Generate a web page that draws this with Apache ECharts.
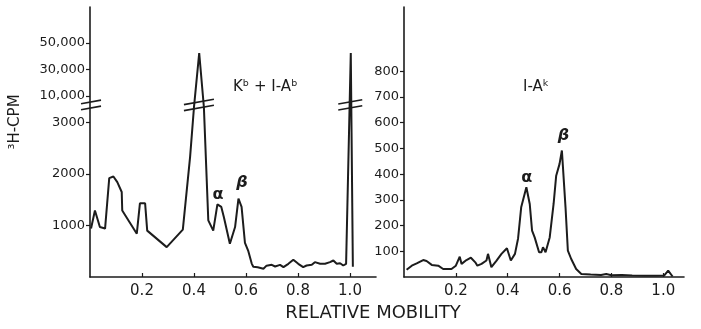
<!DOCTYPE html>
<html>
<head>
<meta charset="utf-8">
<script src="https://cdn.jsdelivr.net/npm/echarts@6/dist/echarts.min.js"></script>
<style>
  html, body { margin: 0; padding: 0; background: #fff; }
  #chart { width: 701px; height: 329px; }
</style>
</head>
<body>
<div id="chart"></div>
<script>
// left panel: K^b + I-A^b  (relative mobility vs 3H-CPM, broken y scale)
const leftX = [0.004, 0.019, 0.038, 0.058, 0.074, 0.09, 0.105, 0.122, 0.124, 0.18, 0.192, 0.212, 0.22, 0.295,
  0.357, 0.385, 0.40, 0.42, 0.438, 0.455, 0.474, 0.49, 0.505, 0.515, 0.538, 0.558, 0.571, 0.583, 0.596, 0.609,
  0.622, 0.628, 0.645, 0.667, 0.679, 0.699, 0.712, 0.731, 0.744, 0.763, 0.782, 0.801, 0.82, 0.833, 0.853,
  0.865, 0.885, 0.904, 0.923, 0.936, 0.949, 0.962, 0.974, 0.985, 0.991, 1.003, 1.011];
const leftCPM = [940, 1290, 970, 940, 1920, 1950, 1840, 1650, 1290, 840, 1430, 1430, 900, 580,
  920, 2330, 3300, 42500, 3300, 1100, 900, 1410, 1360, 1160, 645, 970, 1520, 1360, 660, 500,
  260, 200, 190, 160, 220, 236, 204, 236, 191, 256, 334, 256, 191, 223, 236,
  288, 256, 256, 288, 320, 256, 268, 223, 256, 280, 42500, 200];

// right panel: I-A^k
const rightX = [0.01, 0.03, 0.049, 0.074, 0.087, 0.107, 0.132, 0.151, 0.183, 0.2, 0.215, 0.222, 0.241, 0.258,
  0.275, 0.283, 0.299, 0.318, 0.324, 0.337, 0.357, 0.376, 0.397, 0.402, 0.412, 0.428, 0.44, 0.452, 0.472,
  0.485, 0.494, 0.504, 0.521, 0.53, 0.536, 0.546, 0.562, 0.577, 0.587, 0.6, 0.609, 0.623, 0.632, 0.645,
  0.664, 0.684, 0.72, 0.76, 0.78, 0.8, 0.84, 0.88, 0.93, 0.97, 1.004, 1.019, 1.036];
const rightCPM = [28, 44, 53, 66, 62, 47, 44, 31, 31, 44, 79, 51, 66, 75,
  57, 44, 51, 64, 90, 38, 64, 90, 112, 109, 64, 90, 150, 271, 349,
  284, 180, 154, 96, 96, 116, 96, 154, 284, 394, 440, 492, 271, 103, 70,
  31, 12, 10, 8, 12, 7, 8, 6, 5, 5, 6, 25, 2];

const xTicks = [0.2, 0.4, 0.6, 0.8, 1.0];
const leftYTicks = [1000, 2000, 3000, 10000, 30000, 50000];
const rightYTicks = [100, 200, 300, 400, 500, 600, 700, 800];

// broken axis: above BREAK the scale is compressed
const BREAK = 3340, K = 0.02573;
function toDisplay(v) { return v <= BREAK ? v : BREAK + (v - BREAK) * K; }
function fromDisplay(d) { return d <= BREAK ? d : BREAK + (d - BREAK) / K; }

const INK = '#1c1c1c';
const FONT = 'DejaVu Sans';

const leftData = leftX.map((x, i) => [x, toDisplay(leftCPM[i])]);
const rightData = rightX.map((x, i) => [x, rightCPM[i]]);

function xAxisFor(idx, max) {
  return {
    type: 'value', gridIndex: idx, min: 0, max: max,
    axisLine: { lineStyle: { color: INK, width: 1.6 } },
    axisTick: { inside: true, length: 4, customValues: xTicks, lineStyle: { color: INK, width: 1.2 } },
    axisLabel: { customValues: xTicks, color: INK, fontFamily: FONT, fontSize: 15, margin: 7,
      formatter: v => v.toFixed(1) },
    splitLine: { show: false }
  };
}

const chart = echarts.init(document.getElementById('chart'));
chart.setOption({
  animation: false,
  backgroundColor: '#fff',
  grid: [
    { left: 90, right: 325, top: 7, bottom: 52 },
    { left: 404, right: 17, top: 7, bottom: 52 }
  ],
  xAxis: [xAxisFor(0, 1.1), xAxisFor(1, 1.08)],
  yAxis: [
    {
      type: 'value', gridIndex: 0, min: 0, max: 5240,
      axisLine: { show: true, lineStyle: { color: INK, width: 1.6 } },
      axisTick: { show: true, length: 4, customValues: leftYTicks.map(toDisplay), lineStyle: { color: INK, width: 1.2 } },
      axisLabel: {
        customValues: leftYTicks.map(toDisplay), color: INK, fontFamily: FONT, fontSize: 13, margin: 5,
        formatter: d => {
          const r = Math.round(fromDisplay(d) / 1000) * 1000;
          return r >= 10000 ? r.toLocaleString('en-US') : String(r);
        }
      },
      splitLine: { show: false }
    },
    {
      type: 'value', gridIndex: 1, min: 0, max: 1050,
      axisLine: { show: true, lineStyle: { color: INK, width: 1.6 } },
      axisTick: { show: true, length: 4, customValues: rightYTicks, lineStyle: { color: INK, width: 1.2 } },
      axisLabel: { customValues: rightYTicks, color: INK, fontFamily: FONT, fontSize: 13, margin: 5 },
      splitLine: { show: false }
    }
  ],
  series: [
    {
      type: 'line', xAxisIndex: 0, yAxisIndex: 0, data: leftData,
      showSymbol: false, lineStyle: { color: INK, width: 2 },
      markPoint: {
        symbolSize: 0,
        label: { show: true, position: 'inside', color: INK, fontFamily: FONT, fontSize: 16, fontWeight: 'bold' },
        data: [
          { coord: [0.492, toDisplay(1590)], label: { formatter: 'α' } },
          { coord: [0.585, toDisplay(1820)], label: { formatter: 'β', fontStyle: 'italic' } }
        ]
      }
    },
    {
      type: 'line', xAxisIndex: 1, yAxisIndex: 1, data: rightData,
      showSymbol: false, lineStyle: { color: INK, width: 2 },
      markPoint: {
        symbolSize: 0,
        label: { show: true, position: 'inside', color: INK, fontFamily: FONT, fontSize: 16, fontWeight: 'bold' },
        data: [
          { coord: [0.473, 387], label: { formatter: 'α' } },
          { coord: [0.615, 550], label: { formatter: 'β', fontStyle: 'italic' } }
        ]
      }
    }
  ]
});

// break marks and free text
function slash(px, half, py) {
  const els = [];
  [-3, 3].forEach(off => {
    els.push({
      type: 'line', z: 10,
      shape: { x1: px - half, y1: py + off + half * 0.18, x2: px + half, y2: py + off - half * 0.18 },
      style: { stroke: INK, lineWidth: 1.6 }
    });
  });
  return els;
}
const breakY = chart.convertToPixel({ gridIndex: 0 }, [0, BREAK])[1];
const axisX = chart.convertToPixel({ gridIndex: 0 }, [0, 0])[0];
const peak1 = chart.convertToPixel({ gridIndex: 0 }, [0.419, 0])[0];
const peak2 = chart.convertToPixel({ gridIndex: 0 }, [1.001, 0])[0];

const graphics = []
  .concat(slash(axisX + 1, 10, breakY))
  .concat(slash(peak1, 15, breakY))
  .concat(slash(peak2, 12, breakY));

graphics.push({
  type: 'text', x: 15, y: 122, rotation: Math.PI / 2,
  style: { text: '³H-CPM', fill: INK, font: '15px "DejaVu Sans"', align: 'center', verticalAlign: 'middle' }
});
graphics.push({
  type: 'text', x: 373, y: 313,
  style: { text: 'RELATIVE MOBILITY', fill: INK, font: '18px "DejaVu Sans"', align: 'center', verticalAlign: 'middle' }
});
graphics.push({
  type: 'text', x: 233, y: 87,
  style: { text: 'Kᵇ + I-Aᵇ', fill: INK, font: '15px "DejaVu Sans"', verticalAlign: 'middle' }
});
graphics.push({
  type: 'text', x: 523, y: 87,
  style: { text: 'I-Aᵏ', fill: INK, font: '15px "DejaVu Sans"', verticalAlign: 'middle' }
});
chart.setOption({ graphic: graphics });
</script>
</body>
</html>
